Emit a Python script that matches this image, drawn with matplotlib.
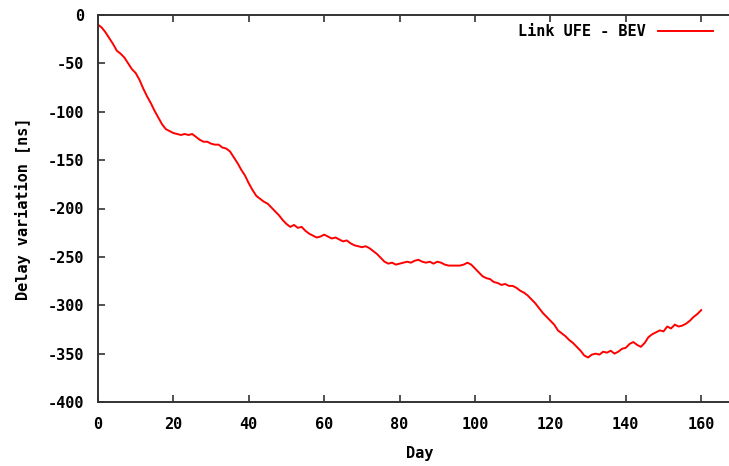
import matplotlib
matplotlib.use("Agg")
import matplotlib.pyplot as plt
import numpy as np

days = list(range(0, 161))
delay = [
    -10, -13, -18, -24, -30, -37, -40, -44, -50, -56,
    -60, -67, -76, -84, -91, -99, -106, -113, -118, -120,
    -122, -123, -124, -123, -124, -123, -126, -129, -131, -131,
    -133, -134, -134, -137, -138, -141, -147, -153, -160, -166,
    -174, -181, -187, -190, -193, -195, -199, -203, -207, -212,
    -216, -219, -217, -220, -219, -223, -226, -228, -230, -229,
    -227, -229, -231, -230, -232, -234, -233, -236, -238, -239,
    -240, -239, -241, -244, -247, -251, -255, -257, -256, -258,
    -257, -256, -255, -256, -254, -253, -255, -256, -255, -257,
    -255, -256, -258, -259, -259, -259, -259, -258, -256, -258,
    -262, -266, -270, -272, -273, -276, -277, -279, -278, -280,
    -280, -282, -285, -287, -290, -294, -298, -303, -308, -312,
    -316, -320, -326, -329, -332, -336, -339, -343, -347, -352,
    -354, -351, -350, -351, -348, -349, -347, -350, -348, -345,
    -344, -340, -338, -341, -343, -339, -333, -330, -328, -326,
    -327, -322, -324, -320, -322, -321, -319, -316, -312, -309,
    -305,
]
x_ticks = [0, 20, 40, 60, 80, 100, 120, 140, 160]
y_ticks = [0, -50, -100, -150, -200, -250, -300, -350, -400]
series_label = "Link UFE - BEV"

font = {"family": "DejaVu Sans Mono", "weight": "bold", "size": 11}

W, H = 729, 466
left_px, right_px, top_px, bot_px = 98, 742, 15, 402
fig = plt.figure(figsize=(W/100, H/100), dpi=100)
ax = fig.add_axes([left_px/W, 1-bot_px/H, (right_px-left_px)/W, (bot_px-top_px)/H])
ax.plot(days, delay, color="#ff0000", lw=1.4, label=series_label)
ax.set_xlim(0, (right_px - left_px) / 3.77)
ax.set_ylim(-400, 0)
ax.set_xticks(x_ticks)
ax.set_yticks(y_ticks)
ax.set_xticklabels([str(t) for t in x_ticks], fontdict=font)
ax.set_yticklabels([str(t) for t in y_ticks], fontdict=font)
ax.tick_params(direction="in", length=5, width=1.2, top=True, right=True,
               color="#333333")
ax.tick_params(axis="x", pad=11)
ax.tick_params(axis="y", pad=10)
for s in ax.spines.values():
    s.set_linewidth(1.4)
    s.set_color("#333333")
ax.set_xlabel("Day", fontdict=font, labelpad=10)
ax.set_ylabel("Delay variation [ns]", fontdict=font, labelpad=12)
leg = ax.legend(loc="upper right", frameon=False, markerfirst=False,
                prop={"family": "DejaVu Sans Mono", "weight": "bold", "size": 11},
                handlelength=3.6, borderaxespad=0.2,
                bbox_to_anchor=((722 - left_px) / (right_px - left_px), 1.0))
fig.savefig("out.png", dpi=100)
